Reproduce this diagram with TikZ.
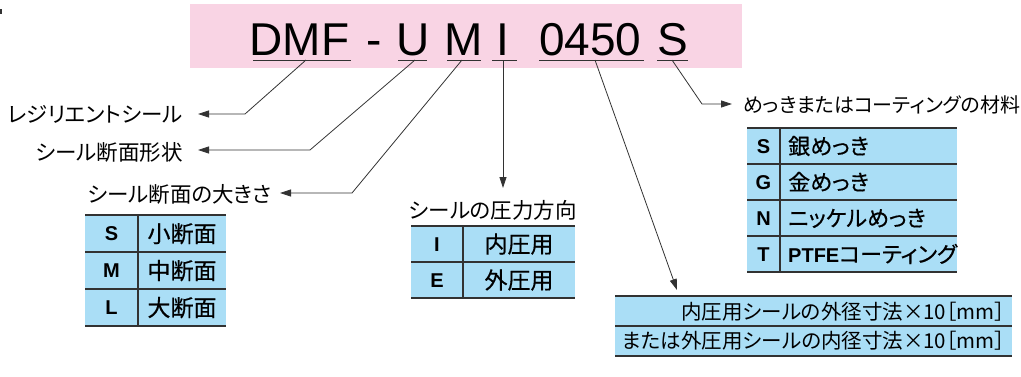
\documentclass[tikz,border=0pt]{standalone}
\usepackage{fontspec}
\setmainfont{Liberation Sans}
\newfontfamily\jp[RawFeature=+palt]{Noto Sans CJK JP}
\newfontfamily\jpm[FakeBold=0.5,RawFeature=+palt]{Noto Sans CJK JP}
\usetikzlibrary{arrows.meta}
\definecolor{pinkbg}{RGB}{249,212,228}
\definecolor{bluebg}{RGB}{170,222,246}
\definecolor{ln}{RGB}{50,50,50}
\tikzset{
  code/.style={inner sep=0pt, anchor=base west, font=\fontsize{46}{50}\selectfont},
  uline/.style={draw=ln, line width=1pt},
  lead/.style={draw=ln, line width=0.8pt, -{Triangle[length=11pt,width=7pt]}},
  lbl/.style={inner sep=0pt, text height=16.3pt, text depth=0pt, font=\jp\fontsize{21.5}{24}\selectfont},
  lbls/.style={inner sep=0pt, text height=15.2pt, text depth=0pt, font=\jp\fontsize{20}{24}\selectfont},
  key/.style={inner sep=0pt, text height=14.3pt, text depth=0pt, font=\bfseries\fontsize{20}{24}\selectfont},
  val/.style={inner sep=0pt, text height=17.5pt, text depth=0pt, font=\jpm\fontsize{23}{26}\selectfont},
  valr/.style={inner sep=0pt, text height=16.7pt, text depth=0pt, font=\jpm\fontsize{22}{26}\selectfont},
  dim/.style={inner sep=0pt, text height=15.6pt, text depth=0pt, font=\jp\fontsize{20.5}{24}\selectfont},
  tline/.style={draw=ln, line width=1.5pt},
}
\begin{document}
\begin{tikzpicture}[x=1pt,y=-1pt]
\useasboundingbox (0,0) rectangle (1021,376);
\fill[ln] (0,9) rectangle (2,14);
% header
\fill[pinkbg] (190,4) rectangle (742,68);
\node[code] (cDMF) at (249.5,55) {DMF};
\node[code] (cdash) at (366,55) {-};
\node[code] (cU) at (396,55) {U};
\node[code] (cM) at (444,55) {M};
\node[code] (cI) at (496.6,55) {I};
\node[code] (cnum) at (539,55) {0450};
\node[code] (cS) at (657,55) {S};
\draw[uline] (253,60) -- (351,60);
\draw[uline] (398,60) -- (427,60);
\draw[uline] (447,60) -- (481,60);
\draw[uline] (492,60) -- (517,60);
\draw[uline] (539,60) -- (644,60);
\draw[uline] (657,60) -- (688,60);
\coordinate (u1) at (306,60);
\coordinate (u2) at (415,60);
\coordinate (u3) at (462,60);
\coordinate (u4) at (503,60);
\coordinate (u5) at (595,60);
\coordinate (u6) at (672,60);
\coordinate (b1) at (245,114);
\coordinate (b2) at (310,150);
\coordinate (b3) at (352,193);
\coordinate (b6) at (702,104);
% labels
\node[lbl, anchor=east] (l1) at (183,114) {レジリエントシール};
\node[lbl, anchor=east] (l2) at (183,152) {シール断面形状};
\node[lbl, anchor=east] (l3) at (272,194) {シール断面の大きさ};
\node[lbls, anchor=west] (l6) at (743,105) {めっきまたはコーティングの材料};
\node[lbl] (l4) at (493,210) {シールの圧力方向};
\draw[lead] (u1) -- (b1) -- ([xshift=15pt]l1.east);
\draw[lead] (u2) -- (b2) -- ([xshift=15pt]l2.east |- b2);
\draw[lead] (u3) -- (b3) -- ([xshift=8pt]l3.east |- b3);
\draw[lead] (u4) -- (503,188);
\draw[lead] (u6) -- (b6) -- ([xshift=-11pt]l6.west |- b6);
% left table
\fill[bluebg] (85,215) rectangle (226,326);
\foreach \yy in {215,252,289,326} \draw[tline] (85,\yy) -- (226,\yy);
\draw[tline] (138,215) -- (138,326);
\node[key] (kS) at (111.5,233.5) {S};
\node[key] (kM) at (111.5,270.5) {M};
\node[key] (kL) at (111.5,307.5) {L};
\node[val] (vS) at (182,233.5) {小断面};
\node[val] (vM) at (182,270.5) {中断面};
\node[val] (vL) at (182,307.5) {大断面};
% middle table
\fill[bluebg] (411,226) rectangle (575,298);
\foreach \yy in {226,262,298} \draw[tline] (411,\yy) -- (575,\yy);
\draw[tline] (463,226) -- (463,298);
\node[key] (kI) at (437,244) {I};
\node[key] (kE) at (437,280) {E};
\node[val] (vI) at (519,244) {内圧用};
\node[val] (vE) at (519,280) {外圧用};
% right table
\fill[bluebg] (747,128) rectangle (957,272);
\foreach \yy in {128,164,200,236,272} \draw[tline] (747,\yy) -- (957,\yy);
\draw[tline] (780,128) -- (780,272);
\node[key] (kS2) at (763.5,146) {S};
\node[key] (kG) at (763.5,182) {G};
\node[key] (kN) at (763.5,218) {N};
\node[key] (kT) at (763.5,254) {T};
\node[valr, anchor=west] (vS2) at (788,146) {銀めっき};
\node[valr, anchor=west] (vG) at (788,182) {金めっき};
\node[valr, anchor=west] (vN) at (788,218) {ニッケルめっき};
\node[valr, anchor=west] (vT) at (788,254) {{\bfseries\rmfamily\fontsize{20}{24}\selectfont PTFE}コーティング};
% bottom table
\fill[bluebg] (615,296) rectangle (1012,356);
\foreach \yy in {296,326,356} \draw[tline] (615,\yy) -- (1012,\yy);
\node[dim, anchor=east] (d1) at (1005,312) {内圧用シールの外径寸法×10［mm］};
\node[dim, anchor=east] (d2) at (1005,341) {または外圧用シールの内径寸法×10［mm］};
\draw[lead] (u5) -- (677,290);
\end{tikzpicture}
\end{document}
